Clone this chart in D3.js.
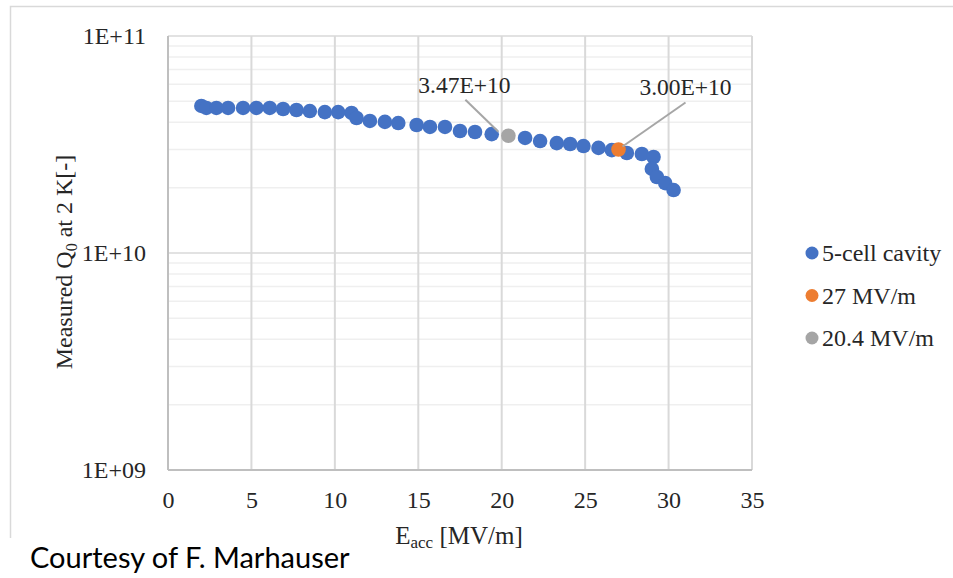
<!DOCTYPE html>
<html><head><meta charset="utf-8">
<script src="https://d3js.org/d3.v7.min.js"></script>
<style>body{margin:0;background:#fff;}svg{display:block;}</style>
</head><body>
<svg id="c" width="953" height="578"></svg>
<script>
// ---- data ----
const cavityE = [2.0, 2.3, 2.9, 3.6, 4.5, 5.3, 6.1, 6.9, 7.7, 8.5, 9.4, 10.2, 11.0, 11.3, 12.1, 13.0, 13.8, 14.9, 15.7, 16.6, 17.5, 18.4, 19.4, 21.4, 22.3, 23.3, 24.1, 24.9, 25.8, 26.6, 27.5, 28.4, 29.1, 29.0, 29.3, 29.8, 30.3];
const cavityQ = [4.76e10, 4.66e10, 4.66e10, 4.66e10, 4.66e10, 4.66e10, 4.66e10, 4.61e10, 4.56e10, 4.51e10, 4.46e10, 4.46e10, 4.42e10, 4.19e10, 4.06e10, 4.02e10, 3.97e10, 3.89e10, 3.81e10, 3.81e10, 3.65e10, 3.61e10, 3.53e10, 3.39e10, 3.28e10, 3.21e10, 3.18e10, 3.11e10, 3.05e10, 2.98e10, 2.89e10, 2.86e10, 2.77e10, 2.44e10, 2.24e10, 2.10e10, 1.95e10];
const pt27E = [27.0], pt27Q = [3.00e10];
const pt204E = [20.4], pt204Q = [3.47e10];
const xTicks = [0, 5, 10, 15, 20, 25, 30, 35];
const yTicks = [1e9, 1e10, 1e11];
const yTickLabels = ["1E+09", "1E+10", "1E+11"];
const legendNames = ["5-cell cavity", "27 MV/m", "20.4 MV/m"];
const colors = ["#4472c4", "#ed7d31", "#a5a5a5"];

const svg = d3.select("#c");
const serif = "'Liberation Serif','Times New Roman',serif";
const L = 168, R = 752, T = 36, B = 470;
const x = d3.scaleLinear().domain([0, 35]).range([L, R]);
const y = d3.scaleLog().domain([1e9, 1e11]).range([B, T]);

// chart border
svg.append("path").attr("d", "M10.5,538 V6.5 H960").attr("fill", "none").attr("stroke", "#d9d9d9").attr("stroke-width", 1.5);

// minor gridlines
const minor = [];
for (let d = 1e9; d < 1e11; d *= 10) for (let k = 2; k <= 9; k++) minor.push(d * k);
svg.append("g").selectAll("line").data(minor).join("line")
  .attr("x1", L).attr("x2", R).attr("y1", d => y(d)).attr("y2", d => y(d))
  .attr("stroke", "#efefef").attr("stroke-width", 1.5);
// major horizontal
svg.append("g").selectAll("line").data(yTicks).join("line")
  .attr("x1", L).attr("x2", R).attr("y1", d => y(d)).attr("y2", d => y(d))
  .attr("stroke", "#d9d9d9").attr("stroke-width", 1.5);
// vertical gridlines
svg.append("g").selectAll("line").data(xTicks).join("line")
  .attr("x1", d => x(d)).attr("x2", d => x(d)).attr("y1", T).attr("y2", B)
  .attr("stroke", "#d9d9d9").attr("stroke-width", 2);
// axis lines
svg.append("line").attr("x1", L).attr("x2", L).attr("y1", T).attr("y2", B).attr("stroke", "#bfbfbf").attr("stroke-width", 2);
svg.append("line").attr("x1", L).attr("x2", R).attr("y1", B).attr("y2", B).attr("stroke", "#bfbfbf").attr("stroke-width", 2);

// axes with d3 axis generators (labels only)
const xAxis = svg.append("g").attr("transform", `translate(0,${B})`)
  .call(d3.axisBottom(x).tickValues(xTicks).tickSize(0).tickPadding(21).tickFormat(d3.format("d")));
const yAxis = svg.append("g").attr("transform", `translate(${L},0)`)
  .call(d3.axisLeft(y).tickValues(yTicks).tickSize(0).tickPadding(22).tickFormat((d, i) => yTickLabels[i]));
[xAxis, yAxis].forEach(g => {
  g.select(".domain").remove();
  g.selectAll("text").attr("font-family", serif).attr("font-size", 24).attr("fill", "#262626");
});

// leader lines + labels
function label(px, py, txt, dx1, dy1, dx2, dy2, tx, ty) {
  svg.append("line").attr("x1", px + dx1).attr("y1", py + dy1).attr("x2", px + dx2).attr("y2", py + dy2)
    .attr("stroke", "#a6a6a6").attr("stroke-width", 2);
  svg.append("text").attr("x", px + tx).attr("y", py + ty).attr("text-anchor", "middle")
    .attr("font-family", serif).attr("font-size", 23.5).attr("fill", "#262626").text(txt);
}

// markers
const r = 7.3;
svg.append("g").selectAll("circle").data(cavityE.map((e, i) => [e, cavityQ[i]])).join("circle")
  .attr("cx", d => x(d[0])).attr("cy", d => y(d[1])).attr("r", r).attr("fill", colors[0]);
svg.append("g").selectAll("circle").data(pt204E.map((e, i) => [e, pt204Q[i]])).join("circle")
  .attr("cx", d => x(d[0])).attr("cy", d => y(d[1])).attr("r", r).attr("fill", colors[2]);
svg.append("g").selectAll("circle").data(pt27E.map((e, i) => [e, pt27Q[i]])).join("circle")
  .attr("cx", d => x(d[0])).attr("cy", d => y(d[1])).attr("r", r).attr("fill", colors[1]);

label(x(pt204E[0]), y(pt204Q[0]), "3.47E+10", -10, -4, -43, -36, -44, -43);
label(x(pt27E[0]), y(pt27Q[0]), "3.00E+10", 4, -3, 67, -47, 67, -54);

// axis titles
const yt = svg.append("text").attr("transform", "translate(72,262) rotate(-90)").attr("text-anchor", "middle")
  .attr("font-family", serif).attr("font-size", 24).attr("fill", "#262626");
yt.append("tspan").text("Measured Q");
yt.append("tspan").attr("font-size", 16).attr("dy", 5).text("0");
yt.append("tspan").attr("dy", -5).text(" at 2 K[-]");

const xt = svg.append("text").attr("x", 459).attr("y", 544).attr("text-anchor", "middle")
  .attr("font-family", serif).attr("font-size", 25).attr("fill", "#262626");
xt.append("tspan").text("E");
xt.append("tspan").attr("font-size", 17).attr("dy", 4).text("acc");
xt.append("tspan").attr("dy", -4).text(" [MV/m]");

// legend
const lg = svg.append("g");
legendNames.forEach((n, i) => {
  const yy = 253 + i * 42.5;
  lg.append("circle").attr("cx", 812).attr("cy", yy).attr("r", 6.5).attr("fill", colors[i]);
  lg.append("text").attr("x", 822).attr("y", yy + 8).attr("font-family", serif).attr("font-size", 24)
    .attr("fill", "#262626").text(n);
});

// courtesy note
svg.append("text").attr("x", 30).attr("y", 568).attr("font-family", "Lato, 'Open Sans', sans-serif")
  .attr("font-size", 29).attr("fill", "#000").text("Courtesy of F. Marhauser");
</script>
</body></html>
